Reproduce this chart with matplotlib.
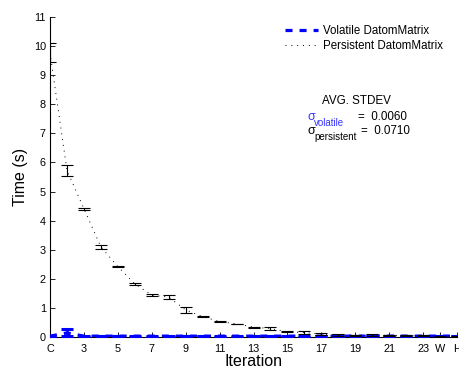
import numpy as np
import matplotlib
matplotlib.use('Agg')
import matplotlib.pyplot as plt
from matplotlib.lines import Line2D

plt.rcParams['font.family'] = ['Liberation Sans', 'DejaVu Sans']

# iteration positions: C, 2..23, W, H
iterations = list(range(1, 26))
tick_pos = [1, 3, 5, 7, 9, 11, 13, 15, 17, 19, 21, 23, 24, 25]
tick_labels = ['C', '3', '5', '7', '9', '11', '13', '15', '17', '19', '21', '23', 'W', 'H']

# mean run time (s) and spread per iteration
persistent_mean = [9.78, 5.73, 4.41, 3.10, 2.42, 1.83, 1.44, 1.37, 0.93, 0.70,
                   0.53, 0.45, 0.34, 0.29, 0.18, 0.15, 0.10, 0.07, 0.06, 0.08,
                   0.05, 0.04, 0.04, 0.03, 0.03]
persistent_err = [0.33, 0.18, 0.04, 0.07, 0.02, 0.03, 0.03, 0.06, 0.10, 0.01,
                  0.01, 0.01, 0.02, 0.05, 0.02, 0.04, 0.04, 0.02, 0.02, 0.04,
                  0.02, 0.02, 0.02, 0.02, 0.02]
volatile_mean = [0.03, 0.14, 0.03, 0.03, 0.03, 0.03, 0.03, 0.03, 0.03, 0.03,
                 0.03, 0.03, 0.03, 0.03, 0.03, 0.03, 0.03, 0.03, 0.03, 0.03,
                 0.03, 0.03, 0.03, 0.03, 0.03]
volatile_err = [0.02, 0.12, 0.02, 0.01, 0.01, 0.02, 0.02, 0.02, 0.01, 0.01,
                0.02, 0.02, 0.02, 0.01, 0.02, 0.02, 0.01, 0.02, 0.01, 0.01,
                0.01, 0.01, 0.01, 0.01, 0.01]
sigma_volatile = 0.0060
sigma_persistent = 0.0710

vol_style = dict(color='#0000ff', linestyle=(0, (2.2, 2.2)), linewidth=2.3)
per_style = dict(color='black', linestyle=(0, (1, 5)), linewidth=0.7)

fig = plt.figure(figsize=(4.59, 3.72), dpi=100)
ax = fig.add_axes([50 / 459, 35 / 372, 407 / 459, 320 / 372])

ax.errorbar(iterations, volatile_mean, yerr=volatile_err, elinewidth=1.8,
            capsize=4.5, capthick=2.2, ecolor='#0000ff', zorder=3, **vol_style)
ax.errorbar(iterations, persistent_mean, yerr=persistent_err, elinewidth=0.8,
            capsize=4.5, capthick=0.8, ecolor='black', zorder=4, **per_style)

ax.set_xlim(1, 25)
ax.set_ylim(0, 11)
ax.set_yticks(range(0, 12))
ax.set_xticks(tick_pos)
ax.set_xticklabels(tick_labels)
ax.tick_params(direction='in', length=3.5, width=0.6, labelsize=7.8)
ax.tick_params(axis='x', pad=5)
ax.tick_params(axis='y', pad=3)
for side in ['top', 'right']:
    ax.spines[side].set_visible(False)
for side in ['left', 'bottom']:
    ax.spines[side].set_linewidth(0.8)

ax.set_xlabel('Iteration', fontsize=11.5, labelpad=0)
ax.set_ylabel('Time (s)', fontsize=11.5, labelpad=4)

handles = [Line2D([], [], **vol_style), Line2D([], [], **per_style)]
ax.legend(handles, ['Volatile DatomMatrix', 'Persistent DatomMatrix'],
          loc='upper left', bbox_to_anchor=(285 / 459, 1 - 25 / 372),
          bbox_transform=fig.transFigure, frameon=False, fontsize=8.3,
          handlelength=2.9, handletextpad=0.4, labelspacing=0.25,
          borderpad=0, borderaxespad=0)

# average standard deviation box
fig.text(356 / 459, 1 - 101 / 372, 'AVG. STDEV', fontsize=8.4,
         ha='center', va='center')
fig.text(307 / 459, 1 - 117 / 372, '\u03c3', fontsize=9, color='#3333ff',
         ha='left', va='center')
fig.text(314 / 459, 1 - 123 / 372, 'volatile', fontsize=7, color='#3333ff',
         ha='left', va='center')
fig.text(358 / 459, 1 - 117 / 372, '=  %.4f' % sigma_volatile, fontsize=8.4,
         ha='left', va='center')
fig.text(307 / 459, 1 - 131 / 372, '\u03c3', fontsize=9, color='black',
         ha='left', va='center')
fig.text(314 / 459, 1 - 137 / 372, 'persistent', fontsize=7, color='black',
         ha='left', va='center')
fig.text(361 / 459, 1 - 131 / 372, '=  %.4f' % sigma_persistent, fontsize=8.4,
         ha='left', va='center')

fig.savefig('out.png', dpi=100)
